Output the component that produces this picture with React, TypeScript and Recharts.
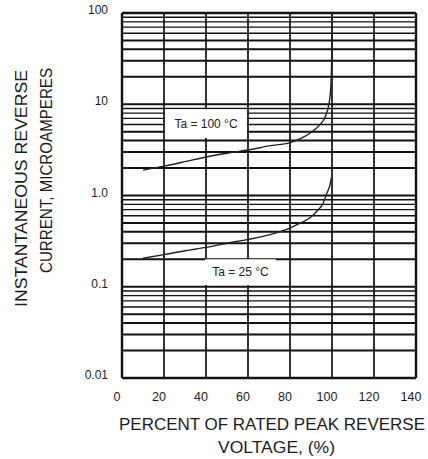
import { CartesianGrid, Line, LineChart, ReferenceArea, XAxis, YAxis } from "recharts"

// percent of rated peak reverse voltage
const xTicks = [0, 20, 40, 60, 80, 100, 120, 140]

// log decades of reverse current (µA) and their printed labels
const yDecades = [0.01, 0.1, 1, 10, 100]
const yDecadeLabels = ["0.01", "0.1", "1.0", "10", "100"]
const rulings = [1, 2, 3, 4, 5, 6, 7, 8, 9]

// Ta = 100 °C curve
const voltage100 = [10, 20, 30, 40, 50, 60, 70, 80, 85, 90, 94, 97, 98.5, 99.3, 99.7, 99.9, 100]
const current100 = [1.9, 2.1, 2.35, 2.64, 2.9, 3.15, 3.5, 3.8, 4.2, 4.9, 5.9, 7.5, 10, 14, 22, 45, 100]

// Ta = 25 °C curve
const voltage25 = [10, 20, 30, 40, 50, 60, 70, 80, 85, 90, 93, 95.5, 97.5, 99, 99.8]
const current25 = [0.205, 0.225, 0.248, 0.27, 0.3, 0.33, 0.37, 0.44, 0.5, 0.58, 0.68, 0.8, 1.05, 1.3, 1.6]

const label100 = "Ta = 100 °C"
const label25 = "Ta = 25 °C"

const xTitle = ["PERCENT OF RATED PEAK REVERSE", "VOLTAGE, (%)"]
const yTitle = ["INSTANTANEOUS REVERSE", "CURRENT, MICROAMPERES"]

const FONT = "'Liberation Sans', Arial, sans-serif"
const INK = "#1c1c1c"

const W = 428
const H = 459
const PLOT_TOP = 13
const PLOT_H = 365

const gridTicks = yDecades
  .slice(0, -1)
  .flatMap((d) => rulings.map((m) => m * d))
  .concat([yDecades[yDecades.length - 1]])

const curve100 = voltage100.map((x, i) => ({ x, y: current100[i] }))
const curve25 = voltage25.map((x, i) => ({ x, y: current25[i] }))

// heavier rulings on the lower part of each decade, like printed log paper
function horizontalLine(props: any) {
  const { x1, x2, y1, index } = props
  const logv = 2 - ((y1 - PLOT_TOP) / PLOT_H) * 4
  const m = Math.round(10 ** (logv - Math.floor(logv + 1e-6)))
  const edge = Math.abs(y1 - PLOT_TOP) < 1 || Math.abs(y1 - PLOT_TOP - PLOT_H) < 1
  const w = edge ? 2.4 : m === 1 ? 2 : m <= 5 ? 1.9 : 1.4
  return <line key={`h-${index}`} x1={x1} x2={x2} y1={y1} y2={y1} stroke="#111" strokeWidth={w} />
}

function verticalLine(props: any) {
  const { x1, y1, y2, index } = props
  const edge = index === 0 || index === xTicks.length - 1
  return <line key={`v-${index}`} x1={x1} x2={x1} y1={y1} y2={y2} stroke="#111" strokeWidth={edge ? 2.4 : 1.7} />
}

function YTick(props: any) {
  const { x, y, payload } = props
  const i = yDecades.indexOf(payload.value)
  if (i < 0) return <g />
  return (
    <text x={x} y={y} dy={1} textAnchor="end" fontSize={12} fontFamily={FONT} fill={INK}>
      {yDecadeLabels[i]}
    </text>
  )
}

export default function App() {
  return (
    <div style={{ position: "absolute", left: 0, top: 0, width: W, height: H, background: "#fff" }}>
      <LineChart width={W} height={H} margin={{ top: PLOT_TOP, right: 12, bottom: 0, left: 0 }}>
        <CartesianGrid horizontal={horizontalLine} vertical={verticalLine} stroke="#111" />
        <XAxis
          type="number"
          dataKey="x"
          domain={[0, 140]}
          ticks={xTicks}
          interval={0}
          height={81}
          axisLine={false}
          tickLine={false}
          tickSize={0}
          tickMargin={14}
          tick={{ fontSize: 12.5, fill: INK, fontFamily: FONT, dx: -5 }}
          allowDataOverflow
        />
        <YAxis
          type="number"
          dataKey="y"
          scale="log"
          domain={[0.01, 100]}
          ticks={gridTicks}
          interval={0}
          width={122}
          axisLine={false}
          tickLine={false}
          tickSize={0}
          tickMargin={14}
          tick={<YTick />}
          allowDataOverflow
        />
        <ReferenceArea
          x1={20.5}
          x2={59.5}
          y1={4.27}
          y2={8.8}
          fill="#fff"
          fillOpacity={1}
          stroke="none"
          label={{ value: label100, position: "center", fontSize: 12, fill: INK, fontFamily: FONT }}
        />
        <ReferenceArea
          x1={39.5}
          x2={73.3}
          y1={0.1045}
          y2={0.2}
          fill="#fff"
          fillOpacity={1}
          stroke="none"
          label={{ value: label25, position: "center", fontSize: 12, fill: INK, fontFamily: FONT }}
        />
        <Line
          data={curve100}
          dataKey="y"
          type="monotone"
          stroke="#222"
          strokeWidth={1.4}
          dot={false}
          isAnimationActive={false}
        />
        <Line
          data={curve25}
          dataKey="y"
          type="monotone"
          stroke="#222"
          strokeWidth={1.4}
          dot={false}
          isAnimationActive={false}
        />
      </LineChart>
      <svg
        width={W}
        height={H}
        style={{ position: "absolute", left: 0, top: 0, pointerEvents: "none" }}
        fontFamily={FONT}
        fill={INK}
        fontSize={17}
      >
        <text x={272} y={430} textAnchor="middle" textLength={306} lengthAdjust="spacingAndGlyphs">
          {xTitle[0]}
        </text>
        <text x={276.5} y={453} textAnchor="middle" textLength={117} lengthAdjust="spacingAndGlyphs">
          {xTitle[1]}
        </text>
        <text
          transform="translate(27,188.5) rotate(-90)"
          textAnchor="middle"
          textLength={237}
          lengthAdjust="spacingAndGlyphs"
        >
          {yTitle[0]}
        </text>
        <text
          transform="translate(52,170.5) rotate(-90)"
          textAnchor="middle"
          textLength={205}
          lengthAdjust="spacingAndGlyphs"
        >
          {yTitle[1]}
        </text>
      </svg>
    </div>
  )
}
